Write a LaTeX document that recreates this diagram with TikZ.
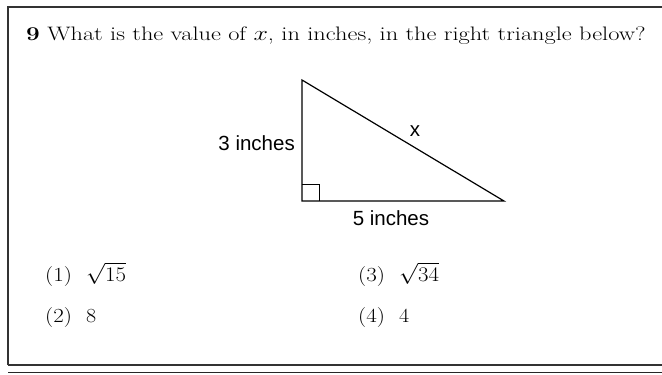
\documentclass[tikz,border=0pt]{standalone}
\usepackage{fontspec}
\usepackage{graphicx}
\newfontfamily\labelfont{Liberation Sans}
\newcommand{\choicetext}[2]{\scalebox{1.15}[1]{#1}\hspace{14pt}\scalebox{1.1}[1]{#2}}
\begin{document}
\begin{tikzpicture}[x=1pt,y=-1pt,
  frameline/.style={line width=1.4pt,draw=black!80},
  triline/.style={line width=1.2pt,draw=black},
  question/.style={anchor=base west,inner sep=0pt,font=\fontsize{19.5}{22}\selectfont},
  choice/.style={anchor=base west,inner sep=0pt,font=\fontsize{20}{23}\selectfont},
  lab/.style={inner sep=0pt,font=\labelfont\fontsize{20.5}{23}\selectfont}]
\useasboundingbox (0,0) rectangle (662,375);
% frame
\draw[frameline] (8,365) -- (8,7) -- (662,7);
\draw[frameline] (8,365) -- (662,365);
\draw[line width=1.6pt,draw=black!85] (8,372.5) -- (662,372.5);
% question
\node[question] (q) at (26,40) {\scalebox{1.25}[1]{\textbf{9} What is the value of $x$, in inches, in the right triangle below?}};
% triangle
\coordinate (A) at (302,80);
\coordinate (B) at (302,201);
\coordinate (C) at (504,201);
\draw[triline] (A) -- (B) -- (C) -- cycle;
\draw[line width=1pt] (302,184) -- (319,184) -- (319,201);
\node[lab,anchor=east] (l3) at (295,143) {3 inches};
\node[lab] (lx) at (415,131) {x};
\node[lab,anchor=north] (l5) at (391,210) {5 inches};
% choices
\node[choice] (c1) at (45,281) {\choicetext{(1)}{$\sqrt{15}$}};
\node[choice] (c3) at (358,281) {\choicetext{(3)}{$\sqrt{34}$}};
\node[choice] (c2) at (45,322) {\choicetext{(2)}{8}};
\node[choice] (c4) at (358,322) {\choicetext{(4)}{4}};
\end{tikzpicture}
\end{document}
